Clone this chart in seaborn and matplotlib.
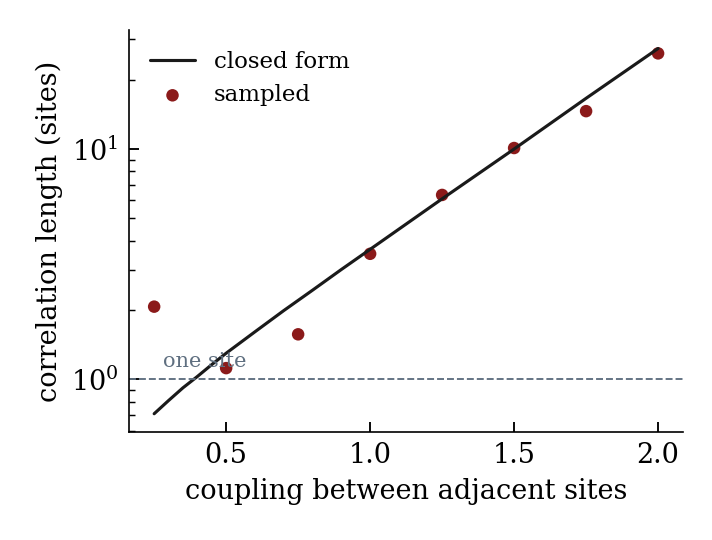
import matplotlib
matplotlib.use("Agg")
import matplotlib.pyplot as plt
import seaborn as sns
import pandas as pd

# closed form curve
curve_x = [0.25, 0.3, 0.35, 0.4, 0.45, 0.5, 0.6, 0.7, 0.8, 0.9, 1.0, 1.25, 1.5, 1.75, 2.0]
curve_y = [0.71, 0.81, 0.92, 1.03, 1.16, 1.30, 1.61, 1.99, 2.44, 3.0, 3.67, 6.08, 10.0, 16.6, 27.3]

# sampled estimates
coupling = [0.25, 0.5, 0.75, 1.0, 1.25, 1.5, 1.75, 2.0]
sampled = [2.07, 1.12, 1.57, 3.51, 6.32, 10.1, 14.6, 26.0]

sns.set_style("ticks")
plt.rcParams["font.family"] = ["DejaVu Serif"]
plt.rcParams.update({
    "xtick.direction": "in",
    "ytick.direction": "in",
    "text.color": "black",
    "axes.labelcolor": "black",
    "axes.edgecolor": "black",
    "xtick.color": "black",
    "ytick.color": "black",
})

curve = pd.DataFrame({"coupling": curve_x, "xi": curve_y})
pts = pd.DataFrame({"coupling": coupling, "xi": sampled})

fig, ax = plt.subplots(figsize=(4.75, 3.6), dpi=150)

sns.lineplot(data=curve, x="coupling", y="xi", color="#1a1a1a", linewidth=1.5,
             label="closed form", ax=ax)
sns.scatterplot(data=pts, x="coupling", y="xi", color="#8b1a1a", s=36,
                edgecolor="none", label="sampled", ax=ax)

ax.set_yscale("log")
ax.axhline(1.0, color="#5f6f80", linestyle="--", linewidth=0.9)
ax.text(0.28, 1.13, "one site", color="#5f6f80", fontsize=10)

ax.set_xticks([0.5, 1.0, 1.5, 2.0])
ax.set_xlabel("coupling between adjacent sites", fontsize=13, labelpad=4)
ax.set_ylabel("correlation length (sites)", fontsize=13, labelpad=4)
ax.tick_params(which="major", length=5, width=0.9, pad=5, labelsize=13)
ax.tick_params(which="minor", length=3, width=0.7)
ax.legend(frameon=False, loc="upper left", fontsize=11)

sns.despine()
fig.subplots_adjust(left=0.181, right=0.959, top=0.944, bottom=0.2)
fig.savefig("out.png")
